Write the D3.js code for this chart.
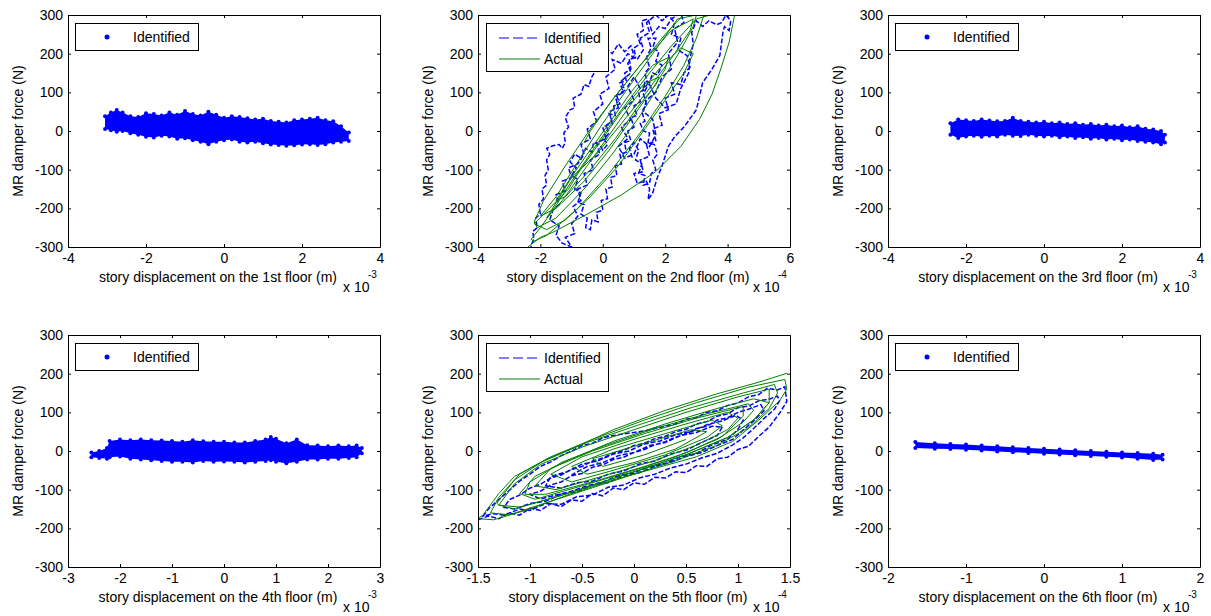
<!DOCTYPE html>
<html>
<head>
<meta charset="utf-8">
<script src="https://cdn.jsdelivr.net/npm/d3@7"></script>
<style>
  body { margin: 0; background: #fff; }
  text { font-family: Arial, "Liberation Sans", sans-serif; fill: #000; }
</style>
</head>
<body>
<svg width="1211" height="616"></svg>
<script>
// ---- data (x in units of 10^exp m, force in N) ----
const floors = ["1st", "2nd", "3rd", "4th", "5th", "6th"];
const yTickValues = [-300, -200, -100, 0, 100, 200, 300];
const xTicks = [
  [-4, -2, 0, 2, 4],
  [-4, -2, 0, 2, 4, 6],
  [-4, -2, 0, 2, 4],
  [-3, -2, -1, 0, 1, 2, 3],
  [-1.5, -1, -0.5, 0, 0.5, 1, 1.5],
  [-2, -1, 0, 1, 2]
];
const xExponents = ["-3", "-4", "-3", "-3", "-4", "-3"];

// floor 1 identified cloud (upper / lower edge)
const floor1X     = [-3.05, -2.9, -2.75, -2.6, -2.4, -2.2, -2.0, -1.8, -1.6, -1.4, -1.2, -1.0, -0.8, -0.6, -0.4, -0.2, 0, 0.2, 0.4, 0.6, 0.8, 1.0, 1.2, 1.4, 1.6, 1.8, 2.0, 2.2, 2.4, 2.6, 2.8, 3.0, 3.2];
const floor1Upper = [38, 48, 54, 48, 38, 36, 46, 44, 40, 48, 42, 52, 44, 40, 50, 42, 34, 38, 36, 33, 30, 32, 26, 24, 22, 28, 30, 32, 34, 28, 25, 12, -4];
const floor1Lower = [5, 2, -2, 0, -6, -10, -15, -17, -12, -14, -20, -19, -24, -28, -34, -28, -24, -22, -28, -30, -28, -32, -35, -36, -38, -37, -35, -34, -36, -34, -30, -28, -26];

// floor 3 identified cloud
const floor3X     = [-2.4, -2.2, -2.0, -1.8, -1.6, -1.4, -1.2, -1.0, -0.8, -0.6, -0.4, -0.2, 0, 0.2, 0.4, 0.6, 0.8, 1.0, 1.2, 1.4, 1.6, 1.8, 2.0, 2.2, 2.4, 2.6, 2.8, 3.0, 3.1];
const floor3Upper = [20, 30, 28, 26, 30, 27, 25, 26, 34, 26, 24, 22, 24, 20, 22, 18, 20, 16, 18, 14, 16, 12, 14, 10, 12, 6, 4, 0, -10];
const floor3Lower = [-10, -18, -14, -12, -15, -12, -14, -10, -12, -13, -10, -12, -14, -12, -16, -14, -18, -16, -20, -18, -22, -20, -24, -22, -26, -28, -30, -34, -30];

// floor 4 identified cloud
const floor4X     = [-2.55, -2.4, -2.25, -2.2, -2.0, -1.8, -1.6, -1.4, -1.2, -1.0, -0.8, -0.6, -0.4, -0.2, 0, 0.2, 0.4, 0.6, 0.8, 0.9, 1.0, 1.2, 1.4, 1.6, 1.8, 2.0, 2.2, 2.4, 2.55, 2.65];
const floor4Upper = [-4, 0, 8, 26, 30, 28, 30, 28, 27, 26, 24, 28, 25, 24, 24, 22, 22, 26, 30, 36, 32, 20, 30, 15, 14, 12, 14, 12, 14, 8];
const floor4Lower = [-16, -18, -20, -16, -14, -20, -22, -24, -26, -28, -28, -30, -26, -28, -27, -28, -30, -28, -26, -24, -28, -32, -28, -22, -22, -20, -20, -18, -16, -6];

// floor 6 identified cloud
const floor6X     = [-1.65, -1.4, -1.2, -1.0, -0.8, -0.6, -0.4, -0.2, 0, 0.2, 0.4, 0.6, 0.8, 1.0, 1.2, 1.4, 1.52];
const floor6Upper = [23, 20, 18, 17, 14, 12, 10, 8, 6, 4, 2, 0, -2, -4, -5, -7, -10];
const floor6Lower = [8, 6, 5, 3, 1, -1, -3, -5, -7, -9, -11, -13, -15, -17, -20, -23, -22];

// floor 2 traces [x, force]
const floor2Identified = [
  [-2.3,-310],[-2.3,-295],[-2.2,-280],[-2.25,-260],[-2.1,-250],[-2.15,-225],[-2.0,-215],[-2.05,-190],[-1.9,-175],[-1.95,-150],
  [-1.8,-140],[-1.85,-115],[-1.75,-100],[-1.8,-75],[-1.7,-60],[-1.8,-45],[-1.6,-38],[-1.4,-35],[-1.3,-45],[-1.2,-30],
  [-1.25,-5],[-1.1,10],[-1.2,35],[-1.05,55],[-0.9,60],[-0.95,85],[-0.7,95],[-0.6,120],[-0.45,115],[-0.35,140],
  [-0.2,160],[-0.25,185],[-0.05,200],[0.1,215],[0.3,200],[0.5,225],[0.7,205],[0.9,220],[1.0,195],[0.8,175],
  [0.9,150],[0.6,130],[0.7,105],[0.4,90],[0.5,60],[0.2,50],[0.3,20],[0.0,10],[0.1,-20],[-0.2,-30],
  [-0.1,-60],[-0.4,-75],[-0.3,-100],[-0.6,-110],[-0.5,-140],[-0.8,-150],[-0.7,-180],[-0.95,-195],[-0.8,-220],[-1.0,-240],
  [-0.9,-265],[-1.2,-275],[-1.0,-300],[-1.3,-290],[-1.5,-270],[-1.4,-245],[-1.7,-230],[-1.6,-205],[-1.4,-190],[-1.5,-165],
  [-1.2,-155],[-1.3,-130],[-1.0,-120],[-1.1,-95],[-0.8,-85],[-0.6,-60],[-0.7,-35],[-0.4,-20],[-0.5,5],[-0.2,25],
  [-0.3,50],[0.0,70],[-0.1,95],[0.2,110],[0.1,140],[0.4,160],[0.3,185],[0.6,175],[0.8,200],[1.1,185],
  [1.3,210],[1.2,240],[1.5,255],[1.4,280],[1.7,300],[1.9,285],[2.1,300],[2.3,280],[2.2,250],[2.5,240],
  [2.4,210],[2.7,195],[2.8,165],[2.6,150],[2.5,120],[2.2,125],[2.3,95],[2.0,85],[2.1,55],[1.8,45],
  [1.9,15],[1.6,5],[1.7,-25],[1.4,-35],[1.5,-65],[1.2,-75],[1.3,-105],[1.0,-110],[1.1,-135],[1.4,-130],
  [1.5,-150],[1.45,-178],[1.6,-160],[1.75,-120],[1.9,-90],[2.1,-40],[2.3,-15],[2.6,10],[3.0,55],[3.1,90],
  [3.2,125],[3.5,160],[3.75,195],[3.8,225],[3.85,255],[3.9,270],[4.05,260],[4.1,285],[3.95,300],[3.8,280],
  [3.65,275],[3.4,285],[3.2,270],[3.0,285],[2.85,255],[2.9,225],[2.8,190],[2.75,150],[2.5,110],[2.35,70],
  [2.0,60],[1.7,85],[1.5,120],[1.2,110],[1.0,140],[0.8,115],[1.0,80],[0.7,60],[0.9,30],[0.6,10],
  [0.8,-20],[0.5,-40],[0.7,-70],[1.0,-60],[1.2,-20],[1.5,-40],[1.7,-10],[1.6,30],[1.3,50],[1.4,80],
  [1.7,100],[1.9,140],[2.2,160],[2.1,200],[2.4,230],[2.3,265],[2.6,280],[2.5,305],[2.2,290],[2.0,265],
  [1.8,270],[1.6,250],[1.45,290],[1.25,285],[1.3,260],[1.1,250],[1.2,225],[1.0,215],[1.05,190],[0.85,185],
  [0.9,160],[0.7,150],[0.75,130],[0.55,125],[0.65,100],[0.45,90],[0.55,70],[0.35,65],[0.4,40],[0.2,45],
  [0.3,25],[0.1,15],[0.2,-5],[0.05,-20],[0.15,-35],[0.0,-50],[-0.1,-35],[-0.3,-30],[-0.35,-55],[-0.55,-45],
  [-0.7,-70],[-0.9,-60],[-1.05,-80],[-0.85,-95],[-1.0,-115],[-0.8,-125],[-0.9,-150],[-0.7,-160],[-0.8,-185],[-0.6,-190],
  [-0.7,-215],[-0.5,-225],[-0.55,-250],[-0.4,-255],[-0.35,-230],[-0.15,-235],[-0.2,-210],[0.0,-205],[-0.05,-180],[0.15,-175],
  [0.1,-150],[0.3,-145],[0.25,-120],[0.45,-115],[0.4,-90],[0.6,-85],[0.55,-60],[0.75,-55],[0.7,-30],[0.9,-25],
  [0.8,0],[1.0,10],[0.9,35],[1.1,40],[1.0,65],[1.2,75],[1.15,100],[1.3,105],[1.35,130],[1.5,125],
  [1.6,150],[1.75,145],[1.9,170],[1.7,180],[1.8,205],[1.6,215],[1.7,240],[1.45,240],[1.55,215],[1.4,190],
  [1.5,165],[1.35,150],[1.45,120],[1.3,95],[1.4,70],[1.25,50],[1.35,25],[1.2,20],[1.3,0],[1.5,-5],
  [1.45,-30],[1.65,-35],[1.75,-60],[1.6,-75],[1.7,-100],[1.55,-110],[1.5,-135],[1.3,-140],[1.35,-115],[1.15,-110],
  [1.25,-85],[1.05,-75],[1.15,-50],[1.0,-30],[0.85,-45],[0.95,-70]
];
const floor2Actual = [
  [-2.4,-300],[-2.0,-275],[-1.6,-262],[-0.5,-215],[0.6,-165],[1.7,-105],[2.5,-40],[3.1,30],[3.5,95],[3.8,165],[4.05,230],[4.2,290],[4.25,310],
  [3.9,310],[3.0,290],[2.2,220],[1.4,140],[0.6,55],[-0.2,-35],[-1.0,-130],[-1.6,-205],[-2.0,-250],[-2.3,-280],
  [-2.2,-285],[-1.8,-270],[-0.8,-200],[0.2,-110],[1.2,-5],[2.0,90],[2.6,170],[3.0,240],[3.2,290],[3.3,310],
  [2.7,310],[2.0,250],[1.2,170],[0.4,90],[-0.4,5],[-1.2,-90],[-1.9,-180],[-2.2,-235],
  [-2.1,-250],[-1.5,-225],[-0.6,-150],[0.3,-60],[1.2,40],[1.9,130],[2.5,210],[2.9,270],[3.0,300],
  [2.4,290],[1.6,200],[0.8,110],[0,20],[-0.8,-80],[-1.5,-170],[-2.0,-220],
  [-1.5,-200],[-0.6,-130],[0.2,-50],[1.0,40],[1.6,110],[2.0,160],[2.1,190],
  [1.6,170],[0.9,100],[0.2,20],[-0.5,-60],[-1.1,-130],[-1.5,-180],
  [-1.2,-170],[-0.4,-100],[0.4,-20],[1.1,60],[1.7,120],[1.8,140],
  [1.3,120],[0.6,50],[-0.1,-30],[-0.8,-110],[-1.1,-150],
  [-2.2,-240],[-1.8,-255],[-1.2,-230],[-0.4,-170],[0.5,-90],[1.3,0],[2.0,80],[2.6,150],[2.9,200],
  [2.5,215],[1.8,160],[1.0,80],[0.3,0],[-0.5,-90],[-1.3,-180],[-1.8,-225],
  [-1.0,-120],[-0.2,-60],[0.6,20],[1.4,100],[2.3,200],[2.8,260],[2.9,290],
  [2.2,260],[1.2,170],[0.3,80],[-0.4,0],[-0.6,-30]
];

// floor 5 traces [x, force]
const floor5Identified = [
  [-1.5,-178],[-1.4,-168],[-1.3,-175],[-1.2,-160],[-1.1,-166],[-1.0,-148],[-0.9,-154],[-0.8,-136],[-0.7,-144],[-0.6,-126],
  [-0.5,-130],[-0.4,-110],[-0.3,-116],[-0.2,-96],[-0.1,-100],[0,-82],[0.1,-86],[0.2,-68],[0.3,-70],[0.4,-54],
  [0.5,-56],[0.6,-38],[0.7,-40],[0.8,-20],[0.9,-16],[1.0,4],[1.1,12],[1.2,38],[1.3,62],[1.4,98],
  [1.47,128],[1.45,166],[1.38,158],[1.28,162],[1.2,146],[1.1,140],[1.0,124],[0.9,118],[0.8,104],[0.7,100],
  [0.6,86],[0.5,82],[0.4,70],[0.3,64],[0.2,58],[0.1,52],[0,48],[-0.1,44],[-0.2,40],[-0.3,34],
  [-0.4,20],[-0.5,14],[-0.6,0],[-0.7,-12],[-0.8,-28],[-0.9,-40],[-1.0,-60],[-1.1,-78],[-1.2,-102],[-1.3,-126],
  [-1.4,-150],[-1.45,-168],[-1.35,-162],[-1.25,-166],[-1.1,-150],[-1.0,-154],[-0.85,-136],[-0.7,-138],[-0.55,-118],[-0.4,-114],
  [-0.25,-94],[-0.1,-88],[0.05,-70],[0.2,-60],[0.35,-44],[0.5,-34],[0.65,-18],[0.8,-6],[0.95,16],[1.05,34],
  [1.15,58],[1.25,84],[1.35,108],[1.4,130],[1.38,142],[1.3,134],[1.2,130],[1.1,116],[1.0,112],[0.9,96],
  [0.8,90],[0.7,76],[0.6,70],[0.5,56],[0.4,50],[0.3,38],[0.2,32],[0.1,20],[0,14],[-0.1,2],
  [-0.2,-6],[-0.3,-18],[-0.4,-26],[-0.5,-40],[-0.6,-48],[-0.7,-62],[-0.8,-70],[-0.9,-86],[-1.0,-96],[-1.1,-114],
  [-1.2,-126],[-1.25,-146],[-1.15,-150],[-1.0,-136],[-0.85,-130],[-0.7,-112],[-0.55,-106],[-0.4,-88],[-0.25,-82],[-0.1,-64],
  [0.05,-56],[0.2,-40],[0.35,-30],[0.5,-14],[0.65,-4],[0.8,14],[0.95,30],[1.05,54],[1.15,78],[1.25,104],
  [1.22,120],[1.1,108],[1.0,100],[0.9,86],[0.8,80],[0.7,64],[0.6,58],[0.5,44],[0.4,36],[0.3,24],
  [0.2,16],[0.1,4],[0,-4],[-0.1,-16],[-0.2,-22],[-0.3,-36],[-0.4,-42],[-0.5,-58],[-0.6,-64],[-0.7,-80],
  [-0.8,-88],[-0.9,-104],[-1.0,-112],[-0.9,-124],[-0.75,-114],[-0.6,-104],[-0.45,-90],[-0.3,-80],[-0.15,-64],[0,-56],
  [0.15,-40],[0.3,-32],[0.45,-14],[0.6,-6],[0.75,16],[0.9,30],[1.0,56],[1.05,80],[0.98,92],[0.85,78],
  [0.7,68],[0.55,50],[0.4,42],[0.25,26],[0.1,18],[-0.05,0],[-0.2,-8],[-0.35,-26],[-0.5,-34],[-0.65,-54],
  [-0.8,-66],[-0.85,-90],[-0.7,-96],[-0.55,-82],[-0.4,-78],[-0.25,-60],[-0.1,-52],[0.05,-34],[0.2,-26],[0.35,-8],
  [0.5,2],[0.65,22],[0.8,40],[0.85,62],[0.75,64],[0.6,48],[0.45,40],[0.3,22],[0.15,14],[0,-4],
  [-0.15,-12],[-0.3,-30],[-0.45,-40],[-0.6,-62]
];
const floor5Actual = [
  [1.47,201],[1.2,178],[0.8,148],[0.3,105],[-0.2,55],[-0.6,5],[-0.9,-30],[-1.15,-66],[-1.3,-110],[-1.45,-165],[-1.5,-175],
  [-1.35,-178],[-1.0,-150],[-0.6,-110],[-0.2,-75],[0.2,-45],[0.6,-15],[0.95,25],[1.2,80],[1.4,130],[1.47,160],
  [1.45,185],[1.1,165],[0.6,125],[0.1,80],[-0.4,30],[-0.8,-15],[-1.1,-60],[-1.3,-120],[-1.38,-160],
  [-1.2,-165],[-0.8,-130],[-0.4,-95],[0,-60],[0.4,-25],[0.8,15],[1.1,60],[1.3,110],[1.38,150],
  [1.35,172],[1.05,150],[0.55,112],[0.05,68],[-0.45,22],[-0.85,-22],[-1.15,-75],[-1.32,-135],
  [-1.3,-140],[-1.1,-145],[-0.7,-115],[-0.3,-80],[0.1,-45],[0.5,-10],[0.9,35],[1.15,80],[1.3,125],
  [1.3,160],[1.0,140],[0.5,100],[0,55],[-0.5,10],[-0.9,-35],[-1.15,-85],[-1.3,-140],
  [-1.15,-150],[-0.7,-115],[-0.3,-80],[0.1,-45],[0.5,-10],[0.9,35],[1.15,80],[1.3,125],
  [1.15,135],[0.8,110],[0.3,70],[-0.2,25],[-0.6,-20],[-0.95,-65],[-1.1,-110],
  [-0.95,-125],[-0.5,-90],[0,-50],[0.4,-15],[0.8,30],[1.05,75],[1.15,105],
  [1.1,122],[0.7,96],[0.2,58],[-0.3,12],[-0.7,-30],[-1.0,-80],[-1.05,-112],
  [-0.85,-112],[-0.4,-80],[0.1,-40],[0.5,-5],[0.85,38],[1.05,90],
  [1.05,115],[0.6,85],[0.1,45],[-0.4,0],[-0.8,-45],[-0.95,-90],
  [-0.75,-100],[-0.3,-65],[0.2,-25],[0.6,15],[0.9,55],[1.0,85],
  [0.9,100],[0.5,70],[0,30],[-0.5,-15],[-0.8,-60],
  [-0.6,-80],[-0.2,-50],[0.3,-10],[0.7,35],[0.85,65],
  [0.75,80],[0.3,45],[-0.2,5],[-0.6,-40],
  [-0.45,-60],[0,-30],[0.4,5],[0.7,50],
  [0.55,55],[0.1,20],[-0.4,-20],[-0.3,-40],[0.1,-10],[0.5,30]
];

// ---- layout ----
const panelLeft = [68, 478, 888];
const panelTop = [15, 335];
const W = 312, H = 232;
const blue = "#0000ff", green = "#008000";

const svg = d3.select("svg");

const panels = [
  { blob: [floor1X, floor1Upper, floor1Lower] },
  { lines: [floor2Identified, floor2Actual] },
  { blob: [floor3X, floor3Upper, floor3Lower] },
  { blob: [floor4X, floor4Upper, floor4Lower] },
  { lines: [floor5Identified, floor5Actual] },
  { blob: [floor6X, floor6Upper, floor6Lower] }
];

panels.forEach((p, i) => {
  const left = panelLeft[i % 3], top = panelTop[Math.floor(i / 3)];
  const g = svg.append("g").attr("transform", `translate(${left},${top})`);
  const ticks = xTicks[i];

  const x = d3.scaleLinear().domain(d3.extent(ticks)).range([0, W]);
  const y = d3.scaleLinear().domain([-300, 300]).range([H, 0]);

  g.append("clipPath").attr("id", "clip" + i)
    .append("rect").attr("width", W).attr("height", H);
  const plot = g.append("g").attr("clip-path", `url(#clip${i})`);

  if (p.blob) {
    const [xs, hi, lo] = p.blob;
    const pts = xs.map((v, k) => ({ x: v, hi: hi[k], lo: lo[k] }));
    plot.append("path")
      .datum(pts)
      .attr("fill", blue)
      .attr("d", d3.area().x(d => x(d.x)).y0(d => y(d.lo)).y1(d => y(d.hi)));
    // dot markers along the edges of the cloud
    plot.selectAll(".dot")
      .data(pts.flatMap(d => [[d.x, d.hi], [d.x, d.lo]]))
      .enter().append("circle")
      .attr("cx", d => x(d[0]))
      .attr("cy", d => y(d[1]))
      .attr("r", 2)
      .attr("fill", blue);
  } else {
    const line = d3.line().x(d => x(d[0])).y(d => y(d[1]));
    plot.append("path").datum(p.lines[0])
      .attr("fill", "none").attr("stroke", blue).attr("stroke-width", 1.5)
      .attr("stroke-dasharray", "5,2").attr("d", line);
    plot.append("path").datum(p.lines[1])
      .attr("fill", "none").attr("stroke", green).attr("stroke-width", 1)
      .attr("d", line);
  }

  // axes: box with inward ticks on all sides
  const fmt = d => String(d);
  g.append("g").attr("transform", `translate(0,${H})`)
    .call(d3.axisBottom(x).tickValues(ticks).tickFormat(fmt).tickSizeInner(-3).tickSizeOuter(0).tickPadding(6));
  g.append("g")
    .call(d3.axisTop(x).tickValues(ticks).tickFormat("").tickSizeInner(-3).tickSizeOuter(0));
  g.append("g")
    .call(d3.axisLeft(y).tickValues(yTickValues).tickFormat(fmt).tickSizeInner(-3).tickSizeOuter(0).tickPadding(5));
  g.append("g").attr("transform", `translate(${W},0)`)
    .call(d3.axisRight(y).tickValues(yTickValues).tickFormat("").tickSizeInner(-3).tickSizeOuter(0));
  g.selectAll(".domain, .tick line").attr("stroke", "#000");
  g.selectAll(".tick text").attr("font-size", 14).attr("fill", "#000")
    .style("font-family", "Arial, 'Liberation Sans', sans-serif");

  // labels
  g.append("text")
    .attr("x", W / 2 - 6).attr("y", H + 35)
    .attr("text-anchor", "middle").attr("font-size", 14)
    .text(`story displacement on the ${floors[i]} floor (m)`);
  g.append("text")
    .attr("transform", `translate(-45,${H / 2}) rotate(-90)`)
    .attr("text-anchor", "middle").attr("font-size", 14)
    .text("MR damper force (N)");
  g.append("text")
    .attr("x", W - 37).attr("y", H + 45).attr("font-size", 14)
    .text("x 10");
  g.append("text")
    .attr("x", W - 12).attr("y", H + 31).attr("font-size", 10)
    .text(xExponents[i]);

  // legend
  const lg = g.append("g");
  if (p.blob) {
    lg.append("rect").attr("x", 7.5).attr("y", 8.5).attr("width", 123).attr("height", 27)
      .attr("fill", "#fff").attr("stroke", "#000");
    lg.append("circle").attr("cx", 39).attr("cy", 22).attr("r", 2.5).attr("fill", blue);
    lg.append("text").attr("x", 65).attr("y", 27).attr("font-size", 14).text("Identified");
  } else {
    lg.append("rect").attr("x", 8.5).attr("y", 8.5).attr("width", 122).attr("height", 48)
      .attr("fill", "#fff").attr("stroke", "#000");
    lg.append("line").attr("x1", 21).attr("x2", 62).attr("y1", 23).attr("y2", 23)
      .attr("stroke", blue).attr("stroke-dasharray", "10,4");
    lg.append("text").attr("x", 66).attr("y", 28).attr("font-size", 14).text("Identified");
    lg.append("line").attr("x1", 21).attr("x2", 62).attr("y1", 44).attr("y2", 44)
      .attr("stroke", green);
    lg.append("text").attr("x", 66).attr("y", 49).attr("font-size", 14).text("Actual");
  }
});
</script>
</body>
</html>
